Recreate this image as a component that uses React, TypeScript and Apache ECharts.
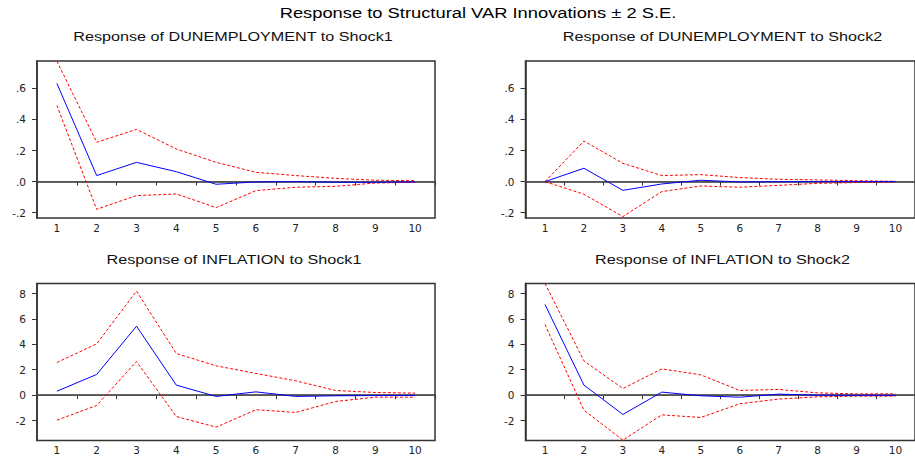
import React, { useEffect, useRef } from "react";
import * as echarts from "echarts";

const periods = ["1", "2", "3", "4", "5", "6", "7", "8", "9", "10"];

const unemp1 = [0.632, 0.039, 0.124, 0.064, -0.017, -0.002, 0.0, -0.004, -0.004, -0.002];
const unemp1Up = [0.775, 0.253, 0.336, 0.21, 0.124, 0.06, 0.039, 0.021, 0.009, 0.006];
const unemp1Lo = [0.49, -0.178, -0.09, -0.079, -0.167, -0.058, -0.036, -0.03, -0.009, -0.004];

const unemp2 = [0.0, 0.086, -0.056, -0.015, 0.009, -0.002, -0.001, 0.0, 0.0, 0.0];
const unemp2Up = [0.0, 0.261, 0.118, 0.039, 0.045, 0.026, 0.015, 0.011, 0.006, 0.002];
const unemp2Lo = [0.0, -0.081, -0.225, -0.064, -0.028, -0.036, -0.024, -0.011, -0.006, -0.002];

const infl1 = [0.31, 1.63, 5.43, 0.79, -0.1, 0.26, -0.1, -0.05, -0.03, -0.02];
const infl1Up = [2.57, 4.04, 8.19, 3.28, 2.31, 1.71, 1.13, 0.37, 0.21, 0.16];
const infl1Lo = [-1.97, -0.81, 2.65, -1.68, -2.52, -1.15, -1.36, -0.5, -0.16, -0.16];

const infl2 = [7.14, 0.79, -1.52, 0.24, -0.05, -0.16, 0.08, 0.0, -0.01, -0.01];
const infl2Up = [8.79, 2.7, 0.52, 2.07, 1.6, 0.37, 0.45, 0.18, 0.1, 0.1];
const infl2Lo = [5.56, -1.18, -3.54, -1.55, -1.76, -0.68, -0.31, -0.13, -0.08, -0.08];

const unempRange = [-0.234, 0.776];
const inflRange = [-3.57, 8.79];
const unempTicks = [-0.2, 0, 0.2, 0.4, 0.6];
const inflTicks = [-2, 0, 2, 4, 6, 8];

const mainTitle = "Response to Structural VAR Innovations \u00b1 2 S.E.";
const panelTitles = [
  "Response of DUNEMPLOYMENT to Shock1",
  "Response of DUNEMPLOYMENT to Shock2",
  "Response of INFLATION to Shock1",
  "Response of INFLATION to Shock2",
];

const panels = [
  { mid: unemp1, up: unemp1Up, lo: unemp1Lo, range: unempRange, ticks: unempTicks, dec: true },
  { mid: unemp2, up: unemp2Up, lo: unemp2Lo, range: unempRange, ticks: unempTicks, dec: true },
  { mid: infl1, up: infl1Up, lo: infl1Lo, range: inflRange, ticks: inflTicks, dec: false },
  { mid: infl2, up: infl2Up, lo: infl2Lo, range: inflRange, ticks: inflTicks, dec: false },
];

const grids = [
  { left: 37, top: 61, width: 398, height: 157 },
  { left: 525.5, top: 61, width: 397, height: 157 },
  { left: 37, top: 283.5, width: 398, height: 157 },
  { left: 525.5, top: 283.5, width: 397, height: 157 },
];

const titlePos = [
  { x: 233, y: 37 },
  { x: 722.5, y: 37 },
  { x: 234, y: 260 },
  { x: 722.5, y: 260 },
];

const fmtDec = (v: number) => {
  const s = v.toFixed(1);
  return s.replace("0.", ".");
};

export default function App() {
  const ref = useRef<HTMLDivElement>(null);
  useEffect(() => {
    if (!ref.current) return;
    const chart = echarts.init(ref.current, null, { renderer: "svg" });
    const axisColor = "#333";
    const labelFont = {
      fontFamily: "DejaVu Sans",
      fontSize: 10.5,
      color: "#222",
    };
    const xAxis = grids.map((_, i) => ({
      type: "category" as const,
      gridIndex: i,
      data: periods,
      boundaryGap: true,
      axisLine: { show: true, lineStyle: { color: axisColor, width: 1.5 } },
      axisTick: { show: true, inside: false, length: 4, alignWithLabel: false, lineStyle: { color: axisColor, width: 1 } },
      axisLabel: { ...labelFont, margin: 4, interval: 0 },
      splitLine: { show: false },
    }));
    const yAxis = panels.map((p, i) => ({
      type: "value" as const,
      gridIndex: i,
      min: p.range[0],
      max: p.range[1],
      axisLine: { show: true, lineStyle: { color: axisColor, width: 1.5 } },
      axisTick: { show: true, inside: false, length: 5, customValues: p.ticks, lineStyle: { color: axisColor, width: 1 } },
      axisLabel: {
        ...labelFont,
        margin: 11,
        customValues: p.ticks,
        formatter: (v: number) => (p.dec ? fmtDec(v) : String(Math.round(v))),
      },
      splitLine: { show: false },
    }));
    const series: any[] = [];
    panels.forEach((p, i) => {
      series.push({
        type: "line",
        xAxisIndex: i,
        yAxisIndex: i,
        data: p.lo,
        symbol: "none",
        z: 3,
        lineStyle: { color: "#ff0000", width: 1, type: [3, 2] },
        markLine: {
          silent: true,
          symbol: "none",
          z: 1,
          label: { show: false },
          lineStyle: { color: "#555", width: 1, type: "solid" },
          data: [{ yAxis: 0 }],
        },
      });
      series.push({
        type: "line",
        xAxisIndex: i,
        yAxisIndex: i,
        data: p.up,
        symbol: "none",
        z: 3,
        lineStyle: { color: "#ff0000", width: 1, type: [3, 2] },
      });
      series.push({
        type: "line",
        xAxisIndex: i,
        yAxisIndex: i,
        data: p.mid,
        symbol: "none",
        z: 4,
        lineStyle: { color: "#0000ff", width: 1 },
      });
    });
    const graphic: any[] = [
      {
        type: "text",
        x: 478,
        y: 13,
        scaleX: 1.31,
        style: {
          text: mainTitle,
          fontFamily: "Liberation Sans",
          fontSize: 14,
          fill: "#000",
          textAlign: "center",
          textVerticalAlign: "middle",
        },
      },
      ...panelTitles.map((t, i) => ({
        type: "text",
        x: titlePos[i].x,
        y: titlePos[i].y,
        scaleX: 1.245,
        style: {
          text: t,
          fontFamily: "Liberation Sans",
          fontSize: 13,
          fill: "#111",
          textAlign: "center",
          textVerticalAlign: "middle",
        },
      })),
    ];
    chart.setOption({
      animation: false,
      backgroundColor: "#fff",
      grid: grids.map((g) => ({
        ...g,
        show: true,
        borderColor: axisColor,
        borderWidth: 1.5,
        backgroundColor: "transparent",
        containLabel: false,
      })),
      xAxis,
      yAxis,
      series,
      graphic,
    });
    return () => chart.dispose();
  }, []);
  return (
    <div
      ref={ref}
      style={{ position: "absolute", left: 0, top: 0, width: 915, height: 457, background: "#fff" }}
    />
  );
}
